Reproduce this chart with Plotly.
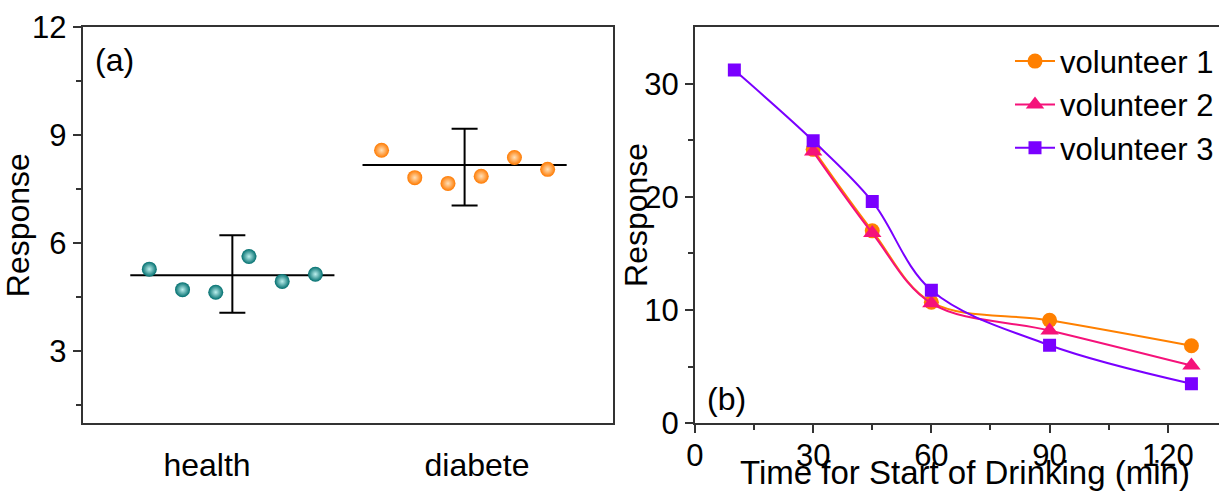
import plotly.graph_objects as go

# ---------- panel (a): response of the two groups ----------
groups = ["health", "diabete"]
group_centres = [1.094, 1.954]
health_resp = [5.28, 4.71, 4.64, 5.63, 4.94, 5.14]
diabete_resp = [8.58, 7.82, 7.66, 7.86, 8.38, 8.05]
group_mean = [5.11, 8.17]
err_plus = [1.11, 1.01]
err_minus = [1.04, 1.12]

# ---------- panel (b): response vs. time after drinking ----------
time_v12 = [30, 45, 60, 90, 126]
time_v3 = [10, 30, 45, 60, 90, 126]
volunteer1 = [24.2, 17.0, 10.7, 9.1, 6.85]
volunteer2 = [24.0, 16.8, 10.6, 8.2, 5.1]
volunteer3 = [31.2, 24.95, 19.6, 11.75, 6.9, 3.5]

FONT = "Liberation Sans, Arial, sans-serif"
STEP = 0.123          # horizontal spacing of the replicate dots
HALF = 0.378          # half length of the mean bar

fig = go.Figure()


def offsets(n):
    return [(i - (n - 1) / 2) * STEP for i in range(n)]


group_vals = [health_resp, diabete_resp]
ball = [("#006e6e", "#bdf0ee"), ("#ff7a00", "#ffe0b8")]
for gi, vals in enumerate(group_vals):
    c = group_centres[gi]
    # mean bar
    fig.add_trace(go.Scatter(
        x=[c - HALF, c + HALF], y=[group_mean[gi]] * 2, mode="lines",
        line=dict(color="black", width=2), showlegend=False,
        xaxis="x", yaxis="y", hoverinfo="skip"))
    # error bar
    fig.add_trace(go.Scatter(
        x=[c], y=[group_mean[gi]], mode="markers",
        marker=dict(size=1, color="rgba(0,0,0,0)"),
        error_y=dict(type="data", symmetric=False,
                     array=[err_plus[gi]], arrayminus=[err_minus[gi]],
                     color="black", thickness=2, width=13),
        showlegend=False, xaxis="x", yaxis="y"))
    # replicate dots
    fig.add_trace(go.Scatter(
        x=[c + o for o in offsets(len(vals))], y=vals, mode="markers",
        marker=dict(size=15, color=ball[gi][0], line=dict(width=0),
                    gradient=dict(type="radial", color=ball[gi][1])),
        showlegend=False, xaxis="x", yaxis="y"))

series = [
    ("volunteer 1", time_v12, volunteer1, "#ff8000", "circle", 15),
    ("volunteer 2", time_v12, volunteer2, "#f5127a", "triangle-up", 16),
    ("volunteer 3", time_v3, volunteer3, "#7a00ff", "square", 13),
]
for name, xs, ys, col, sym, sz in series:
    fig.add_trace(go.Scatter(
        x=xs, y=ys, name=name, mode="lines+markers",
        line=dict(color=col, width=2, shape="spline", smoothing=1.0),
        marker=dict(symbol=sym, size=sz, color=col, line=dict(width=0)),
        xaxis="x2", yaxis="y2"))

tickfont = dict(family=FONT, size=31, color="black")
common_axis = dict(showgrid=False, zeroline=False, showline=True,
                   automargin=False,
                   linecolor="#333333", linewidth=2, tickfont=tickfont,
                   tickcolor="#333333", tickwidth=1.5)

fig.update_layout(
    width=1219, height=492,
    margin=dict(l=0, r=0, t=0, b=0),
    paper_bgcolor="white", plot_bgcolor="white",
    font=dict(family=FONT, color="black"),
    xaxis=dict(domain=[0.0678, 0.5029], range=[0.5396, 2.5037],
               tickvals=[1, 2], ticktext=groups, ticks="",
               ticklabelstandoff=12, mirror=True,
               tickfont=dict(family=FONT, size=32, color="black"),
               **{k: v for k, v in common_axis.items() if k != "tickfont"}),
    yaxis=dict(domain=[0.1396, 0.945], range=[1, 12],
               tickvals=[3, 6, 9, 12], ticks="outside", ticklen=8,
               mirror=True,
               minor=dict(tickvals=[1.5, 4.5, 7.5, 10.5], ticks="outside",
                          ticklen=5, tickcolor="#333333", tickwidth=1.5),
               title=dict(text="Response", standoff=0,
                          font=dict(family=FONT, size=32)),
               **common_axis),
    xaxis2=dict(domain=[0.5701, 1.0], range=[0, 133], anchor="y2",
                tickvals=[0, 30, 60, 90, 120], ticks="outside", ticklen=8,
                ticklabelstandoff=-5, mirror=True,
                minor=dict(tickvals=[15, 45, 75, 105], ticks="outside",
                           ticklen=5, tickcolor="#333333", tickwidth=1.5),
                **common_axis),
    yaxis2=dict(domain=[0.1396, 0.945], range=[0, 35], anchor="x2",
                tickvals=[0, 10, 20, 30], ticks="outside", ticklen=8,
                minor=dict(tickvals=[5, 15, 25], ticks="outside",
                           ticklen=5, tickcolor="#333333", tickwidth=1.5),
                **common_axis),
    legend=dict(x=1.0, y=0.93, xanchor="right", yanchor="top",
                bgcolor="rgba(0,0,0,0)", font=dict(family=FONT, size=31),
                tracegroupgap=0, itemwidth=40),
    annotations=[
        dict(text="(a)", x=0.02, y=0.968, xref="x domain", yref="y domain",
             xanchor="left", yanchor="top", showarrow=False,
             font=dict(family=FONT, size=32)),
        dict(text="(b)", x=0.02, y=0.01, xref="x2 domain", yref="y2 domain",
             xanchor="left", yanchor="bottom", showarrow=False,
             font=dict(family=FONT, size=32)),
        # axis titles of panel (b) sit tight against their tick labels
        dict(text="Response", x=0.5217, y=0.563, xref="paper", yref="paper",
             xanchor="center", yanchor="middle", textangle=-90,
             showarrow=False, font=dict(family=FONT, size=32)),
        dict(text="Time for Start of Drinking (min)", x=0.5, y=0,
             xref="x2 domain", yref="paper", xanchor="center",
             yanchor="bottom", xshift=8, yshift=-1, showarrow=False,
             font=dict(family=FONT, size=33)),
    ],
)

fig.write_html("out.html")
